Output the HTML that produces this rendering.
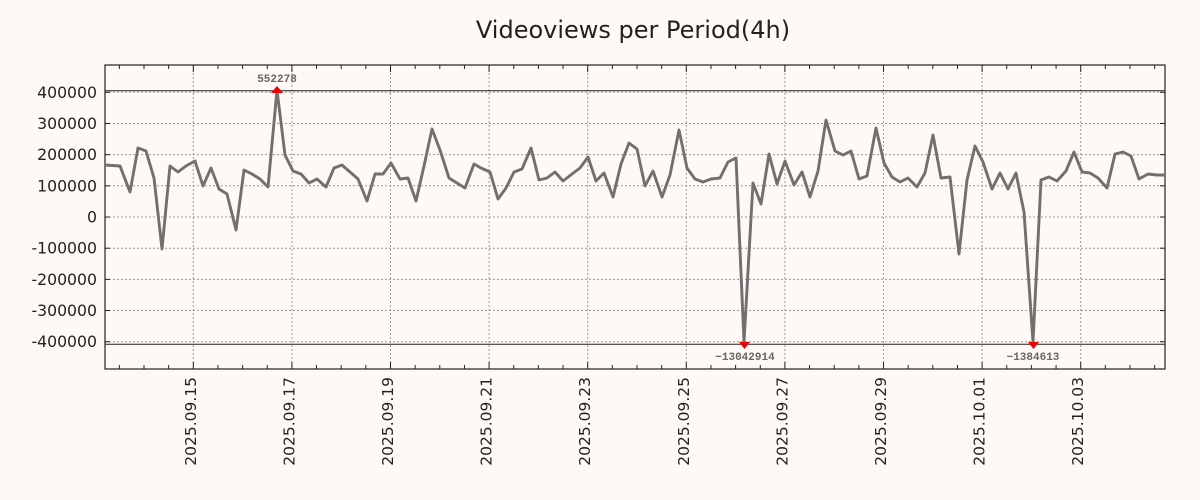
<!DOCTYPE html>
<html><head><meta charset="utf-8"><style>
body{margin:0;background:#fef9f5;}
svg{display:block;font-family:"DejaVu Sans","Liberation Sans",sans-serif;}
</style></head><body>
<svg width="1200" height="500" viewBox="0 0 1200 500">
<rect width="1200" height="500" fill="#fef9f5"/>
<text x="633" y="38" font-size="24" text-anchor="middle" fill="#222">Videoviews per Period(4h)</text>
<g stroke="#999" stroke-width="1" stroke-dasharray="2,2">
<line x1="105" x2="1165" y1="92.3" y2="92.3"/><line x1="105" x2="1165" y1="123.5" y2="123.5"/>
<line x1="105" x2="1165" y1="154.6" y2="154.6"/><line x1="105" x2="1165" y1="185.8" y2="185.8"/>
<line x1="105" x2="1165" y1="217" y2="217"/><line x1="105" x2="1165" y1="248.2" y2="248.2"/>
<line x1="105" x2="1165" y1="279.4" y2="279.4"/><line x1="105" x2="1165" y1="310.5" y2="310.5"/>
<line x1="105" x2="1165" y1="341.7" y2="341.7"/>
<line x1="193.3" x2="193.3" y1="65" y2="369"/><line x1="291.9" x2="291.9" y1="65" y2="369"/>
<line x1="390.5" x2="390.5" y1="65" y2="369"/><line x1="489.1" x2="489.1" y1="65" y2="369"/>
<line x1="587.7" x2="587.7" y1="65" y2="369"/><line x1="686.3" x2="686.3" y1="65" y2="369"/>
<line x1="784.9" x2="784.9" y1="65" y2="369"/><line x1="883.5" x2="883.5" y1="65" y2="369"/>
<line x1="982.1" x2="982.1" y1="65" y2="369"/><line x1="1080.7" x2="1080.7" y1="65" y2="369"/>
</g>
<line x1="105" x2="1165" y1="90.7" y2="90.7" stroke="#222" stroke-width="1"/>
<line x1="105" x2="1165" y1="344.3" y2="344.3" stroke="#222" stroke-width="1"/>
<g id="ticks" stroke="#222" stroke-width="1"></g>
<rect x="105" y="65" width="1060" height="304" fill="none" stroke="#222" stroke-width="1.2"/>
<polyline fill="none" stroke="#707070" stroke-width="2.9" stroke-linejoin="round" points="105,165 120,166 130,192 138,148 146,151 154,178 162,249 170,166 178,172 186,166 195,161 203,186 211,168 219,189 227,194 236,230 244,170 252,174 260,179 268,187 277,90 285,155 293,171 301,174 309,183 317,179 326,187 334,168 342,165 350,172 358,179 367,201 375,174 383,174 391,163 400,179 408,178 416,201 424,166 432,129 440,150 449,178 457,183 465,188 474,164 481,168 490,172 498,199 506,188 514,172 522,169 531,148 539,180 547,178 555,172 563,181 572,174 580,168 588,157 596,181 604,173 613,197 621,164 629,143 637,149 645,186 653,171 662,197 670,175 679,130 687,168 695,179 703,182 711,179 720,178 728,162 736,158 744,342 753,183 761,204 769,154 777,184 785,161 794,185 802,172 810,197 818,171 826,120 835,151 843,155 851,151 859,179 867,176 876,128 884,163 892,177 900,182 908,178 917,187 925,173 933,135 941,178 950,177 959,254 967,180 975,146 983,162 992,189 1000,173 1008,189 1016,173 1024,212 1033,342 1041,180 1049,177 1057,181 1066,171 1074,152 1082,172 1090,173 1098,178 1107,188 1115,154 1123,152 1131,156 1139,179 1148,174 1157,175 1165,175"/>
<polygon points="271,93 283,93 277,86" fill="#e00"/>
<polygon points="739,342 750,342 744.5,349" fill="#e00"/>
<polygon points="1028,342 1039,342 1033.5,349" fill="#e00"/>
<g font-size="11" fill="#666" text-anchor="middle" font-weight="bold" font-family="Liberation Mono,monospace">
<text x="277" y="82">552278</text>
<text x="745" y="360">−13042914</text>
<text x="1033" y="360">−1384613</text>
</g>
<g font-size="15.7" fill="#222" text-anchor="end">
<text x="97" y="97.8">400000</text><text x="97" y="129">300000</text>
<text x="97" y="160.1">200000</text><text x="97" y="191.3">100000</text>
<text x="97" y="222.5">0</text><text x="97" y="253.7">-100000</text>
<text x="97" y="284.9">-200000</text><text x="97" y="316">-300000</text>
<text x="97" y="347.2">-400000</text>
</g>
<g id="xl" font-size="15.5" fill="#222" text-anchor="end"></g>
<script>
var ns="http://www.w3.org/2000/svg",t=document.getElementById("ticks"),xl=document.getElementById("xl");
function ln(a,b,c,d){var l=document.createElementNS(ns,"line");l.setAttribute("x1",a);l.setAttribute("y1",b);l.setAttribute("x2",c);l.setAttribute("y2",d);t.appendChild(l);}
for(var x=193.3-24.65*3;x<1165;x+=24.65){if(x<106)continue;var maj=Math.abs(((x-193.3)/98.6)-Math.round((x-193.3)/98.6))<0.01;var h=maj?7:4;ln(x,369,x,369-h);ln(x,65,x,65+h);}
for(var i=0;i<9;i++){var y=92.3+i*31.18;ln(105,y,110,y);ln(1165,y,1160,y);}
var d=["2025.09.15","2025.09.17","2025.09.19","2025.09.21","2025.09.23","2025.09.25","2025.09.27","2025.09.29","2025.10.01","2025.10.03"];
for(var i=0;i<10;i++){var x=193.3+i*98.6;var tx=document.createElementNS(ns,"text");tx.setAttribute("transform","translate("+(x+2.5)+",377) rotate(-90)");tx.textContent=d[i];xl.appendChild(tx);}
</script>
</svg>
</body></html>
